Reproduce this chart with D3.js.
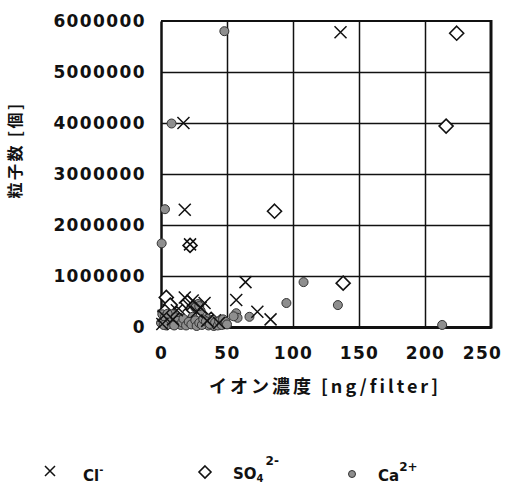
<!DOCTYPE html>
<html>
<head>
<meta charset="utf-8">
<script src="https://cdn.jsdelivr.net/npm/d3@7"></script>
<style>
  body { margin: 0; background: #fff; }
  svg { display: block; }
  .tick-label { font-family: "DejaVu Sans", sans-serif; font-weight: bold; font-size: 17px; letter-spacing: 1.4px; }
</style>
</head>
<body>
<div id="chart"></div>
<script>
// [イオン濃度 ng/filter, 粒子数]
const clPoints = [
  [17, 4000000], [136, 5780000], [18, 2300000], [22, 1620000], [64, 880000],
  [57, 530000], [73, 300000], [83, 150000], [33, 470000], [18, 580000],
  [21, 420000], [12, 330000], [27, 300000], [2, 220000], [9, 150000],
  [35, 120000], [44, 80000], [1, 60000], [24, 520000], [30, 380000]
];
const so4Points = [
  [224, 5760000], [216, 3940000], [86, 2270000], [22, 1600000], [138, 860000],
  [4, 580000], [7, 430000], [12, 260000], [24, 350000], [31, 230000],
  [38, 150000], [15, 120000], [45, 100000], [20, 480000], [3, 300000]
];
const caPoints = [
  [48, 5800000], [8, 3990000], [3, 2310000], [0.5, 1640000], [108, 880000],
  [95, 470000], [134, 430000], [213, 40000], [57, 270000], [58, 180000],
  [67, 200000], [28, 450000], [26, 380000], [30, 320000], [29, 410000],
  [2, 150000], [5, 100000], [8, 60000], [10, 130000], [12, 80000],
  [15, 40000], [18, 110000], [20, 60000], [22, 140000], [25, 90000],
  [28, 50000], [30, 120000], [33, 70000], [36, 30000], [38, 100000],
  [42, 60000], [45, 130000], [48, 80000], [4, 30000], [14, 180000],
  [24, 200000], [35, 160000], [1, 250000], [6, 200000], [40, 20000],
  [55, 210000], [0, 80000], [3, 200000], [7, 150000], [9, 250000],
  [11, 190000], [13, 120000], [16, 90000], [17, 160000], [19, 30000],
  [21, 100000], [23, 50000], [26, 130000], [27, 20000], [29, 80000],
  [31, 40000], [32, 150000], [34, 110000], [37, 60000], [39, 140000],
  [41, 90000], [43, 30000], [44, 110000], [46, 40000], [47, 150000],
  [49, 100000], [50, 50000], [5, 260000], [2, 40000], [10, 30000]
];

const xTicks = [0, 50, 100, 150, 200, 250];
const yTicks = [0, 1000000, 2000000, 3000000, 4000000, 5000000, 6000000];
const xTitle = 'イオン濃度 [ng/filter]';
const yTitle = '粒子数 [個]';

const WIDTH = 509;
const HEIGHT = 486;
const MARGIN = { TOP: 21, RIGHT: 18, BOTTOM: 159, LEFT: 161 };

const svg = d3.select('#chart').append('svg').attr('width', WIDTH).attr('height', HEIGHT);

const xScale = d3.scaleLinear().domain([0, 250]).range([MARGIN.LEFT, WIDTH - MARGIN.RIGHT]);
const yScale = d3.scaleLinear().domain([0, 6000000]).range([HEIGHT - MARGIN.BOTTOM, MARGIN.TOP]);

// グリッド線
svg.append('g')
  .attr('transform', 'translate(0,' + (HEIGHT - MARGIN.BOTTOM) + ')')
  .call(d3.axisBottom(xScale).tickValues(xTicks.slice(1, -1))
    .tickSizeInner(-(yScale(0) - yScale(6000000))).tickSizeOuter(0).tickFormat(''))
  .call((g) => g.select('.domain').remove())
  .selectAll('line').attr('stroke', '#111').attr('stroke-width', 1.5);

svg.append('g')
  .attr('transform', 'translate(' + MARGIN.LEFT + ',0)')
  .call(d3.axisLeft(yScale).tickValues(yTicks.slice(1, -1))
    .tickSizeInner(-(xScale(250) - xScale(0))).tickSizeOuter(0).tickFormat(''))
  .call((g) => g.select('.domain').remove())
  .selectAll('line').attr('stroke', '#111').attr('stroke-width', 1.5);

// 枠線
const x0 = xScale(0), x1 = xScale(250), y0 = yScale(0), y1 = yScale(6000000);
svg.append('line').attr('x1', x0).attr('x2', x1).attr('y1', y1).attr('y2', y1).attr('stroke', '#111').attr('stroke-width', 2);
svg.append('line').attr('x1', x1).attr('x2', x1).attr('y1', y1 - 1).attr('y2', y0 + 1.5).attr('stroke', '#111').attr('stroke-width', 3);

// 軸
svg.append('g')
  .attr('transform', 'translate(0,' + y0 + ')')
  .call(d3.axisBottom(xScale).tickValues(xTicks).tickSize(0).tickPadding(20))
  .call((g) => g.select('.domain').attr('stroke', '#111').attr('stroke-width', 3))
  .selectAll('text').attr('class', 'tick-label').attr('fill', '#111')
  // 右端のラベルは枠からはみ出さないよう少し左へ
  .attr('dx', (d) => (d === 250 ? -9 : 0));

svg.append('g')
  .attr('transform', 'translate(' + x0 + ',0)')
  .call(d3.axisLeft(yScale).tickValues(yTicks).tickSize(0).tickPadding(15).tickFormat(d3.format('d')))
  .call((g) => g.select('.domain').attr('stroke', '#111').attr('stroke-width', 2.5))
  .selectAll('text').attr('class', 'tick-label').attr('fill', '#111');

// 軸タイトル
svg.append('text')
  .attr('x', 325)
  .attr('y', 393)
  .attr('text-anchor', 'middle')
  .attr('font-family', '"Noto Sans CJK JP", sans-serif')
  .attr('font-weight', 'bold')
  .attr('font-size', '18px')
  .attr('letter-spacing', '3px')
  .attr('fill', '#111')
  .text(xTitle);

svg.append('text')
  .attr('transform', 'translate(21,150) rotate(-90)')
  .attr('text-anchor', 'middle')
  .attr('font-family', '"Noto Sans CJK JP", sans-serif')
  .attr('font-weight', 'bold')
  .attr('font-size', '16px')
  .attr('letter-spacing', '2.5px')
  .attr('fill', '#111')
  .text(yTitle);

// マーカー
const crossPath = (s) => `M${-s},${-s}L${s},${s}M${-s},${s}L${s},${-s}`;
const diamondPath = (s) => `M0,${-s}L${s},0L0,${s}L${-s},0Z`;

function drawCa(g, data, r) {
  g.selectAll(null).data(data).join('circle')
    .attr('cx', (d) => xScale(d[0]))
    .attr('cy', (d) => yScale(d[1]))
    .attr('r', r)
    .attr('fill', '#8e8e8e')
    .attr('stroke', '#333')
    .attr('stroke-width', 1);
}
function drawSo4(g, data, s) {
  g.selectAll(null).data(data).join('path')
    .attr('transform', (d) => `translate(${xScale(d[0])},${yScale(d[1])})`)
    .attr('d', diamondPath(s))
    .attr('fill', '#fff')
    .attr('stroke', '#111')
    .attr('stroke-width', 1.6);
}
function drawCl(g, data, s) {
  g.selectAll(null).data(data).join('path')
    .attr('transform', (d) => `translate(${xScale(d[0])},${yScale(d[1])})`)
    .attr('d', crossPath(s))
    .attr('fill', 'none')
    .attr('stroke', '#111')
    .attr('stroke-width', 1.5);
}

const plot = svg.append('g');
drawSo4(plot.append('g'), so4Points, 7);
drawCa(plot.append('g'), caPoints, 4.5);
drawCl(plot.append('g'), clPoints, 6);

// 凡例
const legend = svg.append('g')
  .attr('font-family', '"DejaVu Sans", sans-serif')
  .attr('font-weight', 'bold')
  .attr('fill', '#111');

legend.append('path').attr('transform', 'translate(50,471)').attr('d', crossPath(5))
  .attr('stroke', '#111').attr('stroke-width', 1.5).attr('fill', 'none');
legend.append('path').attr('transform', 'translate(205,472)').attr('d', diamondPath(6))
  .attr('stroke', '#111').attr('stroke-width', 1.6).attr('fill', '#fff');
legend.append('circle').attr('cx', 352).attr('cy', 474).attr('r', 3.5)
  .attr('fill', '#8e8e8e').attr('stroke', '#333');

const clText = legend.append('text').attr('x', 83).attr('y', 481).attr('font-size', '15px');
clText.append('tspan').text('Cl');
clText.append('tspan').attr('dy', -8).attr('font-size', '10px').text('-');

const so4Text = legend.append('text').attr('x', 233).attr('y', 479).attr('font-size', '15px');
so4Text.append('tspan').text('SO');
so4Text.append('tspan').attr('dy', 3).attr('font-size', '10px').text('4');
so4Text.append('tspan').attr('dy', -17).attr('dx', 2).attr('font-size', '12px').text('2-');

const caText = legend.append('text').attr('x', 378).attr('y', 481).attr('font-size', '15px');
caText.append('tspan').text('Ca');
caText.append('tspan').attr('dy', -10).attr('font-size', '12px').text('2+');
</script>
</body>
</html>
